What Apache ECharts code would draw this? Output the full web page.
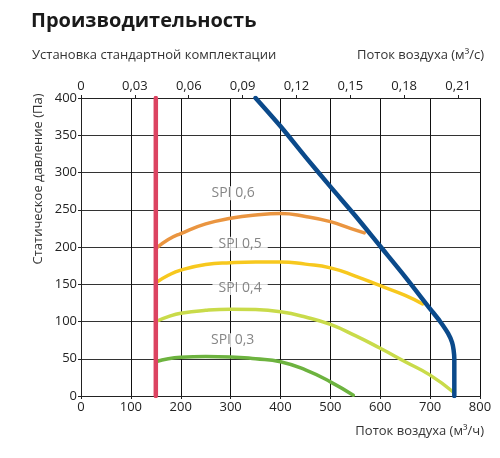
<!DOCTYPE html>
<html><head><meta charset="utf-8">
<script src="https://cdn.jsdelivr.net/npm/echarts@6/dist/echarts.min.js"></script>
<style>html,body{margin:0;padding:0;background:#fff}#c{width:500px;height:458px}</style>
</head><body><div id="c"></div>
<script>
const titleText = 'Производительность';
const subtitleText = 'Установка стандартной комплектации';
const topAxisName = 'Поток воздуха (м³/с)';
const bottomAxisName = 'Поток воздуха (м³/ч)';
const yAxisName = 'Статическое давление (Па)';

const redLine = [[150,0],[150,400]];
const fanCurve = [[350,400],[400,362],[450,321],[500,281],[550,242],[600,201],[650,160],[700,117],[720,100],[736,84],[744,72],[747,62],[748.5,50],[748.5,0]];
const spi06 = [[150,198],[175,210],[200,218],[250,231],[300,238.5],[350,243],[400,245],[450,241],[500,234],[540,225],[568,219]];
const spi05 = [[150,152],[175,162],[200,169],[250,176.5],[300,179],[350,180],[400,180],[450,177],[500,172],[550,161],[600,148],[650,135],[685,123.5]];
const spi04 = [[150,100],[175,106.5],[200,111],[250,115],[300,116.5],[350,116],[400,113],[450,106],[500,96],[550,81],[600,64],[650,46],[700,28],[745,6]];
const spi03 = [[150,46],[175,50],[200,52],[250,53],[300,52.5],[350,50],[400,46],[450,35],[500,19],[546,1]];
const spiLabels = [
  {name:'SPI 0,6', value:[305,272]},
  {name:'SPI 0,5', value:[319,204.5]},
  {name:'SPI 0,4', value:[319,145]},
  {name:'SPI 0,3', value:[304,75]}
];

const font = '"Open Sans", "Noto Sans", sans-serif';
const chart = echarts.init(document.getElementById('c'));
const lineS = (data, color, w, smooth, z) => ({
  type:'line', data, symbol:'none', smooth, z,
  lineStyle:{color, width:w, cap:'round', join:'round'}, silent:true
});
chart.setOption({
  animation:false,
  textStyle:{fontFamily:font},
  grid:{left:81, right:20, top:98, bottom:62},
  xAxis:[
    {type:'value', min:0, max:800, interval:100, position:'bottom',
     axisLine:{show:true, lineStyle:{color:'#222', width:1}},
     axisTick:{show:true, length:3, lineStyle:{color:'#222'}},
     axisLabel:{color:'#222', fontSize:13, margin:5, fontFamily:font},
     splitLine:{show:true, lineStyle:{color:'#111', width:1}}},
    {type:'value', min:0, max:800/3600, interval:0.03, position:'top',
     axisLine:{show:true, lineStyle:{color:'#222'}},
     axisTick:{show:true, length:3, lineStyle:{color:'#222'}},
     axisLabel:{color:'#222', fontSize:13, margin:5, fontFamily:font, showMaxLabel:false,
       formatter: v => v === 0 ? '0' : v.toFixed(2).replace('.', ',')},
     splitLine:{show:false}}
  ],
  yAxis:{type:'value', min:0, max:400, interval:50,
     axisLine:{show:true, lineStyle:{color:'#222'}},
     axisTick:{show:true, length:3, lineStyle:{color:'#222'}},
     axisLabel:{color:'#222', fontSize:13, margin:4, fontFamily:font},
     splitLine:{show:true, lineStyle:{color:'#333', width:1}}},
  graphic:[
    {type:'text', left:31, top:11, style:{text:titleText, font:'bold 20px '+font, fill:'#1a1a1a'}},
    {type:'text', left:32, top:49, style:{text:subtitleText, font:'13px '+font, fill:'#333'}},
    {type:'text', right:16, top:49, style:{text:topAxisName, font:'13px '+font, fill:'#333'}},
    {type:'text', right:16, top:425, style:{text:bottomAxisName, font:'13px '+font, fill:'#333'}},
    {type:'text', x:32, y:179, rotation:Math.PI/2,
     style:{text:yAxisName, font:'13px '+font, fill:'#333', align:'center', verticalAlign:'top'}}
  ],
  series:[
    lineS(spi03, '#6db33f', 3.5, 0.5, 3),
    lineS(spi04, '#c9db4a', 3.5, 0.5, 3),
    lineS(spi05, '#f7c81e', 3.5, 0.5, 3),
    lineS(spi06, '#ea9540', 3.5, 0.5, 3),
    lineS(fanCurve, '#0b4a8b', 4.5, 0.3, 4),
    lineS(redLine, '#dc4361', 4.5, false, 5),
    {type:'scatter', data:spiLabels, symbolSize:0, z:6, silent:true,
     label:{show:true, position:'inside', formatter:p => p.name, color:'#666', fontSize:14,
       fontFamily:font, backgroundColor:'#fff', padding:[0,6]}}
  ]
});
</script></body></html>
